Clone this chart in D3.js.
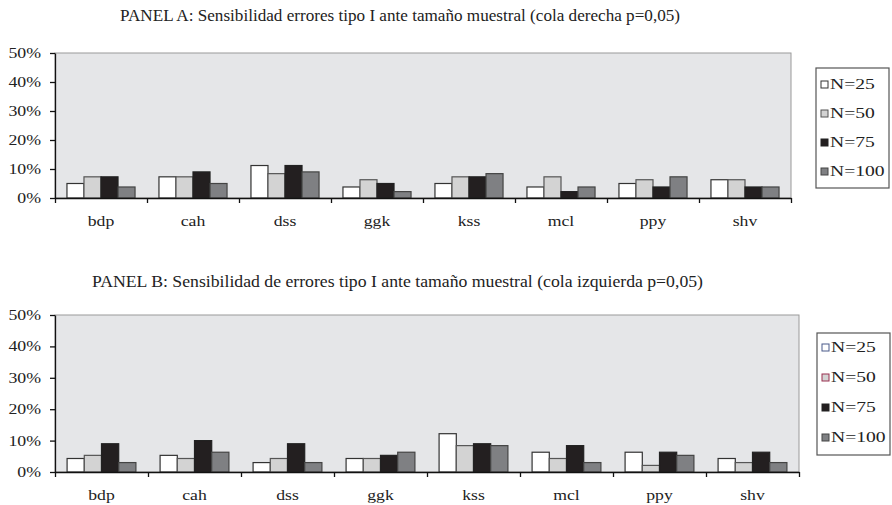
<!DOCTYPE html>
<html><head><meta charset="utf-8">
<script src="https://cdn.jsdelivr.net/npm/d3@7"></script>
<style>
body{margin:0;background:#fff;}
svg{display:block;}
</style></head>
<body><svg id="c" width="892" height="505" font-family="'Liberation Serif','Times New Roman',serif"></svg>
<script>
const categories = ["bdp","cah","dss","ggk","kss","mcl","ppy","shv"];
const seriesNames = ["N=25","N=50","N=75","N=100"];
const yTicks = [0,0.1,0.2,0.3,0.4,0.5];
const titleA = "PANEL A: Sensibilidad errores tipo I ante tamaño muestral (cola derecha p=0,05)";
const titleB = "PANEL B: Sensibilidad de errores tipo I ante tamaño muestral (cola izquierda p=0,05)";
// values as fractions, one entry per category
const panelA_N25  = [0.050,0.073,0.112,0.038,0.050,0.038,0.050,0.063];
const panelA_N50  = [0.073,0.073,0.084,0.063,0.073,0.073,0.063,0.063];
const panelA_N75  = [0.073,0.090,0.112,0.050,0.073,0.022,0.038,0.038];
const panelA_N100 = [0.038,0.050,0.090,0.022,0.084,0.038,0.073,0.038];
const panelB_N25  = [0.043,0.053,0.030,0.043,0.122,0.063,0.063,0.043];
const panelB_N50  = [0.053,0.043,0.043,0.043,0.084,0.043,0.021,0.030];
const panelB_N75  = [0.090,0.100,0.090,0.053,0.090,0.084,0.063,0.063];
const panelB_N100 = [0.030,0.063,0.030,0.063,0.084,0.030,0.053,0.030];

const fills = ["#ffffff","#d3d3d3","#231f20","#7f8083"];
const strokes = ["#333","#555","#222","#444"];
const FONT = "'Liberation Serif','Times New Roman',serif";
const svg = d3.select("#c");

function panel(cfg){
  const {title,titleY,titleX0,titleX1,x0,x1,yTop,yBot,series,legend} = cfg;
  const g = svg.append("g");
  const x = d3.scaleBand().domain(categories).range([x0,x1]).paddingInner(0.26).paddingOuter(0.13);
  const xs = d3.scaleBand().domain(seriesNames).range([0,x.bandwidth()]);
  const y = d3.scaleLinear().domain([0,0.5]).range([yBot,yTop]);
  const xb = d3.scaleLinear().domain([0,categories.length]).range([x0,x1]);

  g.append("text").attr("x",titleX0).attr("y",titleY)
    .attr("textLength",titleX1-titleX0).attr("lengthAdjust","spacingAndGlyphs")
    .style("font-family",FONT).style("font-size","16.5px").attr("fill","#222").text(title);

  g.append("rect").attr("x",x0).attr("y",yTop).attr("width",x1-x0).attr("height",yBot-yTop)
    .attr("fill","#e5e6e8").attr("stroke","#9a9a9a").attr("stroke-width",1);

  categories.forEach((c,i)=>{
    series.forEach((vals,j)=>{
      g.append("rect").attr("x",x(c)+xs(seriesNames[j])).attr("y",y(vals[i]))
        .attr("width",xs.bandwidth()).attr("height",yBot-y(vals[i]))
        .attr("fill",fills[j]).attr("stroke",strokes[j]).attr("stroke-width",1.2);
    });
  });

  const ya = g.append("g").attr("transform",`translate(${x0},0)`)
    .call(d3.axisLeft(y).tickValues(yTicks).tickFormat(d3.format(".0%")).tickSize(5).tickPadding(6).tickSizeOuter(0));
  ya.select(".domain").attr("stroke","#111").attr("stroke-width",1.3);
  ya.selectAll(".tick line").attr("stroke","#111").attr("stroke-width",1.3);
  ya.selectAll(".tick text").style("font-size","14px").style("font-family",FONT).attr("fill","#222")
    .attr("transform","scale(1.27,1)");

  const xa = g.append("g").attr("transform",`translate(0,${yBot})`)
    .call(d3.axisBottom(xb).tickValues(d3.range(0,categories.length+1)).tickFormat("").tickSize(5).tickSizeOuter(0));
  xa.select(".domain").attr("stroke","#111").attr("stroke-width",1.3);
  xa.selectAll(".tick line").attr("stroke","#111").attr("stroke-width",1.3);

  const xl = g.append("g").attr("transform",`translate(0,${yBot})`)
    .call(d3.axisBottom(x).tickSize(0).tickPadding(17));
  xl.select(".domain").remove();
  xl.selectAll(".tick text").style("font-size","15px").style("font-family",FONT).attr("fill","#222")
    .attr("transform","scale(1.18,1)");

  const L = legend;
  g.append("rect").attr("x",L.x).attr("y",L.y).attr("width",L.w).attr("height",L.h)
    .attr("fill","#fff").attr("stroke","#555").attr("stroke-width",1.2);
  seriesNames.forEach((n,j)=>{
    const cy = L.first + j*L.step;
    g.append("rect").attr("x",L.x+5).attr("y",cy-3).attr("width",7).attr("height",7)
      .attr("fill",fills[j]).attr("stroke",L.sw[j]).attr("stroke-width",1);
    g.append("text").attr("transform",`translate(${L.x+14},${cy+5}) scale(1.4,1)`)
      .style("font-size","14px").style("font-family",FONT).attr("fill","#222").text(n);
  });
}

panel({title:titleA,titleY:21,titleX0:120,titleX1:680,x0:55,x1:791,yTop:53,yBot:198,
  series:[panelA_N25,panelA_N50,panelA_N75,panelA_N100],
  legend:{x:816,y:68,w:73,h:120,first:84,step:29,sw:["#333","#555","#222","#444"]}});
panel({title:titleB,titleY:287,titleX0:92,titleX1:703,x0:55,x1:799,yTop:315,yBot:472,
  series:[panelB_N25,panelB_N50,panelB_N75,panelB_N100],
  legend:{x:817,y:333,w:73,h:122,first:347,step:30,sw:["#4a5a8a","#9a3050","#222","#444"]}});
</script></body></html>
